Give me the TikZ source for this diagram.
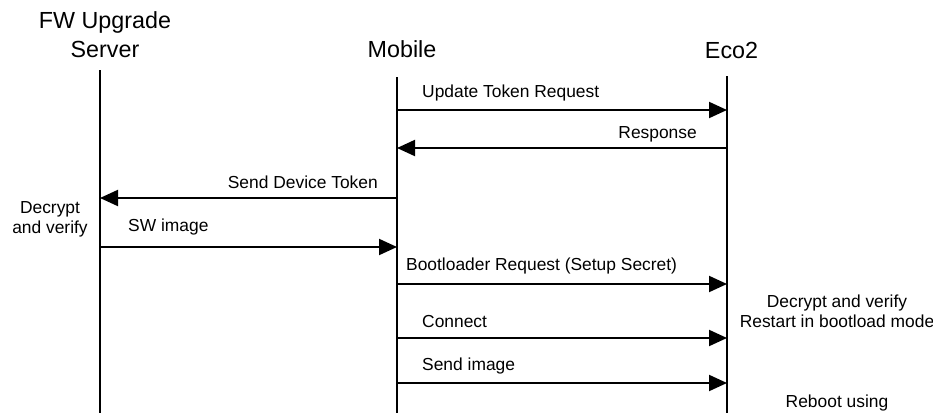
\documentclass[tikz,border=0pt]{standalone}
\usepackage{fontspec}
\setmainfont{Liberation Sans}
\usetikzlibrary{arrows.meta}

\begin{document}
\begin{tikzpicture}[
    x=1pt, y=-1pt,
    actor/.style={font=\fontsize{23.3}{29}\selectfont, anchor=base, inner sep=0pt, align=center},
    lifeline/.style={line width=2pt},
    msg/.style={line width=2pt, -{Triangle[length=18pt, width=16pt]}},
    msglabel/.style={font=\fontsize{17.4}{20}\selectfont, inner sep=0pt},
    note/.style={font=\fontsize{17.4}{20}\selectfont, inner sep=0pt, align=center, anchor=base}
]
    \useasboundingbox (0,0) rectangle (933,412);

    % Participants (base = last line)
    \node[actor] (server) at (105,58) {FW Upgrade\\Server};
    \node[actor] (mobile) at (402,57) {Mobile};
    \node[actor] (eco) at (731.5,59) {Eco2};

    % Lifelines
    \coordinate (srv) at (100,70);
    \coordinate (mob) at (397,77);
    \coordinate (ec) at (727,76);
    \draw[lifeline] (srv) -- (srv |- 0,420);
    \draw[lifeline] (mob) -- (mob |- 0,420);
    \draw[lifeline] (ec) -- (ec |- 0,420);

    % Token exchange
    \node[msglabel, anchor=base west] (tokreq) at (422,97) {Update Token Request};
    \draw[msg] (mob |- 0,110) -- (ec |- 0,110);
    \node[msglabel, anchor=base east] (resp) at (697,138) {Response};
    \draw[msg] (ec |- 0,148) -- (mob |- 0,148);
    \node[msglabel, anchor=base east] (devtok) at (378,188) {Send Device Token};
    \draw[msg] (mob |- 0,198) -- (srv |- 0,198);

    % Server side
    \node[note] (srvcheck) at (50,233) {Decrypt\\and verify};
    \node[msglabel, anchor=base west] (swimg) at (128,231) {SW image};
    \draw[msg] (srv |- 0,247) -- (mob |- 0,247);

    % Bootloader update
    \node[msglabel, anchor=base west] (bootreq) at (406,270) {Bootloader Request (Setup Secret)};
    \draw[msg] (mob |- 0,284) -- (ec |- 0,284);
    \node[note] (ecocheck) at (837,327) {Decrypt and verify\\Restart in bootload mode};
    \node[msglabel, anchor=base west] (conn) at (422,327) {Connect};
    \draw[msg] (mob |- 0,338) -- (ec |- 0,338);
    \node[msglabel, anchor=base west] (sendimg) at (422,370) {Send image};
    \draw[msg] (mob |- 0,383) -- (ec |- 0,383);
    \node[note] (reboot) at (837,407) {Reboot using};

\end{tikzpicture}
\end{document}
